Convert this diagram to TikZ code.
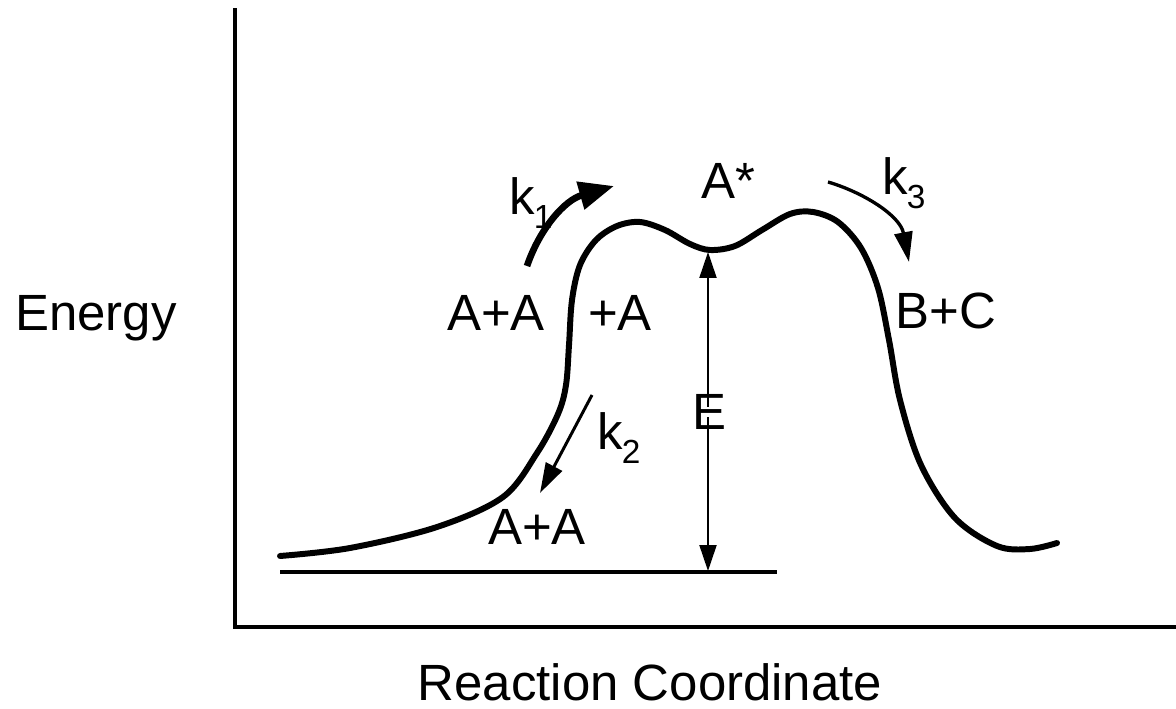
\documentclass[tikz,border=0pt]{standalone}
\usepackage{fontspec}
\setmainfont{Liberation Sans}
\usetikzlibrary{arrows.meta}
\tikzset{
  lbl/.style={inner sep=0pt, font=\fontsize{29}{30}\selectfont},
  axis/.style={line width=1.8pt, line cap=rect},
  curve/.style={line width=3.4pt, line cap=round, line join=round},
  rate/.style={-{Triangle[length=0.6cm,width=0.36cm]}}
}
\newcommand{\ksub}[1]{k\kern-0.5pt\raisebox{-8pt}{\fontsize{19}{19}\selectfont #1}}
\begin{document}
\begin{tikzpicture}[x=0.02cm,y=-0.02cm]
\useasboundingbox (0,0) rectangle (1176,709);
% axes
\coordinate (ytop) at (235,10);
\coordinate (orig) at (235,627);
\coordinate (xend) at (1176,627);
\draw[axis] (ytop) -- (orig) -- (xend);
% baseline
\coordinate (b0) at (280,572);
\coordinate (b1) at (777,572);
\draw[line width=1.8pt] (b0) -- (b1);
% energy curve
\draw[curve] plot[smooth, tension=0.55] coordinates {
 (280,556) (350,548) (437,527) (503,497) (537,453) (558,414) (566,385)
 (569,345) (572,300) (580,265) (596,240) (617,226) (640,222) (665,230)
 (690,244) (710,250) (735,246) (762,230) (790,214) (813,212) (838,222)
 (861,248) (878,288) (889,340) (900,400) (921,465) (955,518) (997,546)
 (1030,549) (1057,543)};
% labels
\node[lbl] (energy) at (96,318) {Energy};
\node[lbl, anchor=base] (rc) at (650,700) {Reaction Coordinate};
\node[lbl] (aa1) at (496,313) {A+A};
\node[lbl] (pa) at (620,313) {+A};
\node[lbl] (astar) at (728,181) {A*};
\node[lbl] (bc) at (946,311) {B+C};
\node[lbl] (aa2) at (537,527) {A+A};
\node[lbl] (E) at (709,412) {E};
\node[lbl, anchor=west] (k1) at (509,203) {\ksub{1}};
\node[lbl, anchor=west] (k3) at (882,183) {\ksub{3}};
\node[lbl, anchor=west] (k2) at (597,438) {\ksub{2}};
% E double arrow
\coordinate (Etop) at (708,252);
\coordinate (Ebot) at (708,571);
\draw[line width=1.2pt, -{Triangle[length=0.52cm,width=0.34cm]}] ([yshift=-0.25cm]E.north) ++(-1,0) -- (Etop);
\draw[line width=1.2pt, -{Triangle[length=0.52cm,width=0.34cm]}] ([yshift=0.25cm]E.south) ++(-1,0) -- (Ebot);
% k1 arrow
\coordinate (k1s) at (527,266);
\coordinate (k1e) at (614,186);
\draw[line width=3.8pt, -{Triangle[length=0.7cm,width=0.55cm]}] (k1s) .. controls (540,228) and (565,200) .. (k1e);
% k3 arrow
\coordinate (k3s) at (828,182);
\coordinate (k3e) at (909,262);
\draw[line width=1.9pt, rate] (k3s) .. controls (862,192) and (900,215) .. (k3e);
% k2 arrow
\coordinate (k2s) at (592,395);
\coordinate (k2e) at (540,493);
\draw[line width=1.7pt, rate] (k2s) -- (k2e);
\end{tikzpicture}
\end{document}
